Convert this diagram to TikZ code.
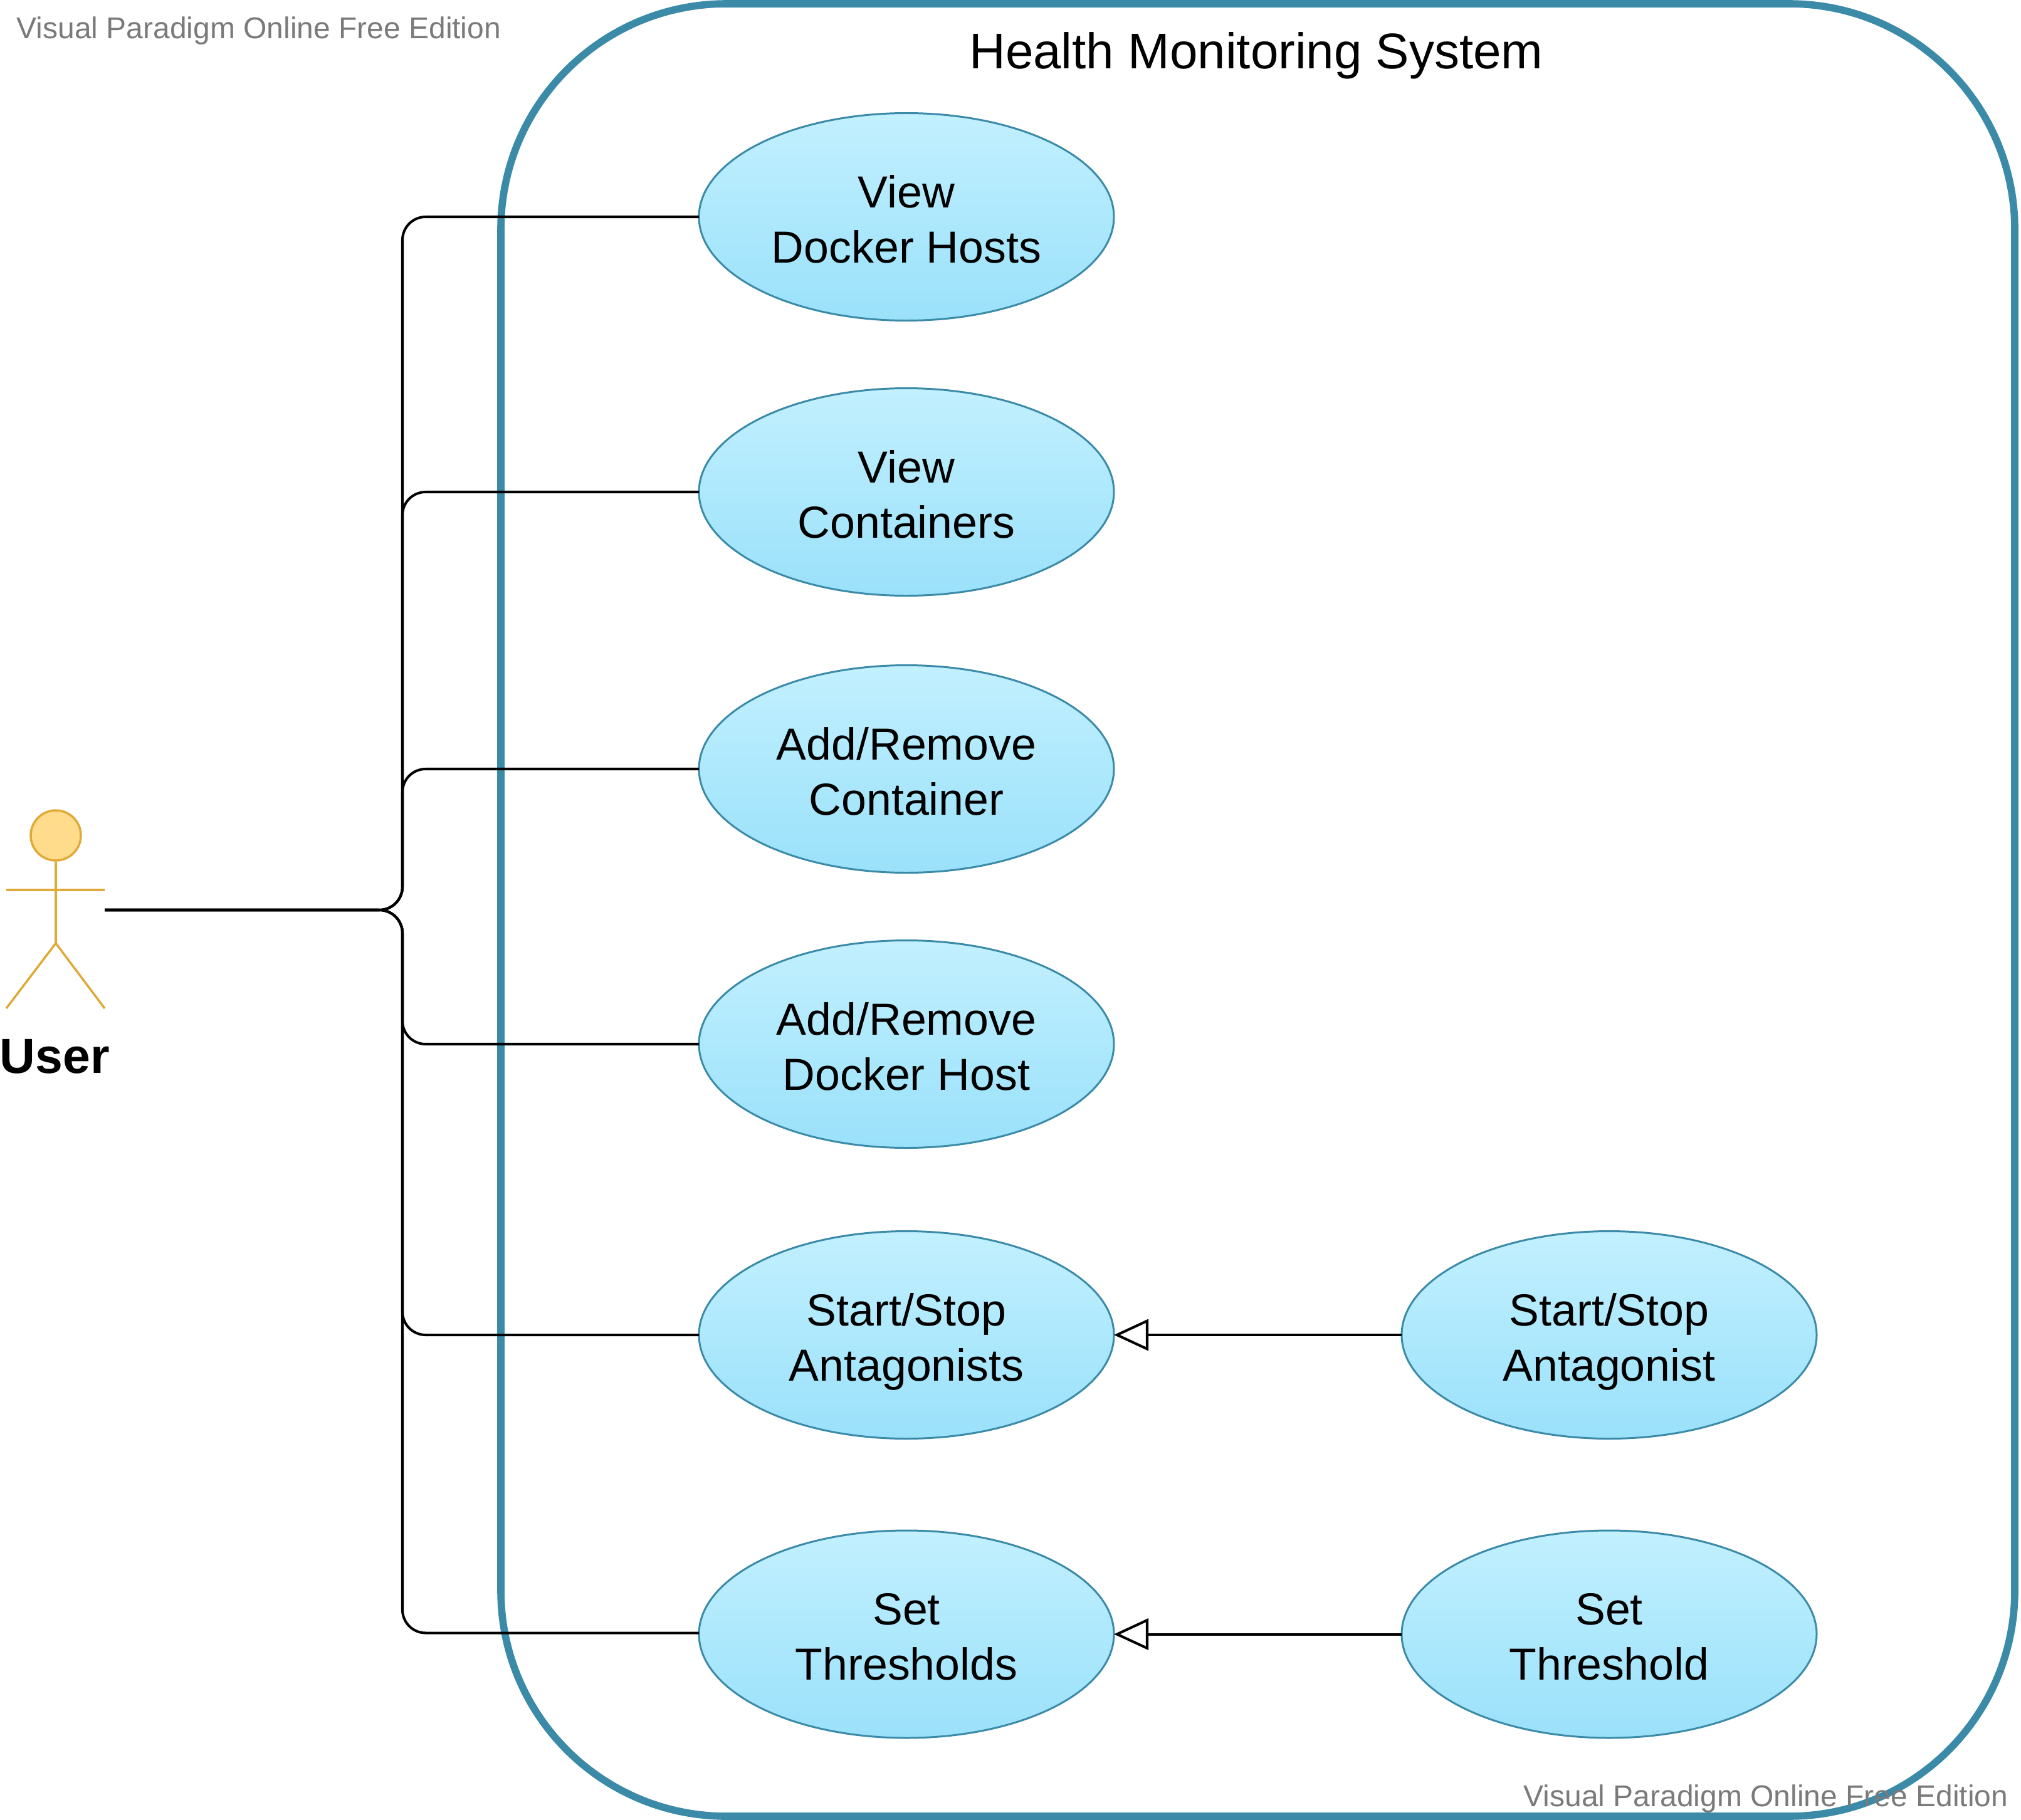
\documentclass[tikz,border=0pt]{standalone}
\usepackage{xcolor}
\usepackage{fontspec}
\setmainfont{Liberation Sans}
\usetikzlibrary{
  arrows.meta,
  positioning,
  shapes.geometric
}
\definecolor{framecol}{HTML}{3A8AA8}
\definecolor{usetop}{HTML}{C2F0FF}
\definecolor{usebot}{HTML}{9AE1FA}
\definecolor{actorcol}{HTML}{DFAA38}
\definecolor{actorfill}{HTML}{FFDB8C}
\definecolor{markcol}{HTML}{7A7A7A}
\newcommand{\twolines}[2]{\rule{0pt}{23.6pt}#1\\#2\rule[-7pt]{0pt}{7pt}}
\tikzset{
  usecase/.style={ellipse, draw=framecol, line width=0.85pt, top color=usetop, bottom color=usebot,
    minimum width=6.62cm, minimum height=3.31cm, inner sep=0pt, outer sep=0pt, align=center,
    font=\fontsize{20.4}{25}\selectfont},
  sysframe/.style={draw=framecol, line width=3.3pt, rounded corners=3.6cm, minimum width=24.15cm,
    minimum height=28.92cm, inner sep=0pt},
  actorline/.style={draw=actorcol, line width=1pt},
  link/.style={draw=black, line width=1.15pt, rounded corners=0.37cm},
  extends/.style={draw=black, line width=1.15pt, -{Triangle[open, fill=white, length=0.55cm, width=0.5cm]}},
  watermark/.style={text=markcol, font=\fontsize{13.65}{16}\selectfont, anchor=base west, inner sep=0pt}
}
\begin{document}
\begin{tikzpicture}
    \useasboundingbox (0,0) rectangle (32.24,-29.04);
    % system boundary
    \node[sysframe] (system) at (20.065,-14.52) {};
    \node[anchor=base, inner sep=0pt, font=\fontsize{22.75}{27}\selectfont] (title) at (20.04,-1.10) {Health Monitoring System};
    % use cases
    \node[usecase] (viewhosts) at (14.46,-3.46) {\twolines{View}{Docker Hosts}};
    \node[usecase] (viewcont) at (14.46,-7.85) {\twolines{View}{Containers}};
    \node[usecase] (addcont) at (14.46,-12.27) {\twolines{Add/Remove}{Container}};
    \node[usecase] (addhost) at (14.46,-16.66) {\twolines{Add/Remove}{Docker Host}};
    \node[usecase] (startall) at (14.46,-21.30) {\twolines{Start/Stop}{Antagonists}};
    \node[usecase] (setall) at (14.46,-26.075) {\twolines{Set}{Thresholds}};
    \node[usecase] (startone) at (25.67,-21.30) {\twolines{Start/Stop}{Antagonist}};
    \node[usecase] (setone) at (25.67,-26.075) {\twolines{Set}{Threshold}};
    % actor
    \node[circle, actorline, fill=actorfill, minimum size=0.8cm, inner sep=0pt] (head) at (0.89,-13.33) {};
    \coordinate (hip) at (0.89,-15.05);
    \coordinate (handl) at (0.10,-14.20);
    \coordinate (handr) at (1.67,-14.20);
    \coordinate (footl) at (0.10,-16.09);
    \coordinate (footr) at (1.67,-16.09);
    \draw[actorline] (head) -- (hip);
    \draw[actorline] (handl) -- (handr);
    \draw[actorline] (footl) -- (hip) -- (footr);
    \node[anchor=base, inner sep=0pt, font=\bfseries\fontsize{22.4}{27}\selectfont] (user) at (0.875,-17.12) {User};
    % connectors
    \coordinate (userout) at (1.67,-14.52);
    \coordinate (trunk) at (6.42,-14.52);
    \foreach \target in {viewhosts,viewcont,addcont,addhost,startall}
        \draw[link] (userout) -- (trunk) |- (\target.west);
    \draw[link] (userout) -- (trunk) |- ([yshift=0.02cm]setall.west);
    \draw[extends] (startone) -- (startall);
    \draw[extends] (setone) -- (setall);
    % watermarks
    \node[watermark] (marktop) at (0.26,-0.62) {Visual Paradigm Online Free Edition};
    \node[watermark] (markbot) at (24.30,-28.82) {Visual Paradigm Online Free Edition};
\end{tikzpicture}
\end{document}
